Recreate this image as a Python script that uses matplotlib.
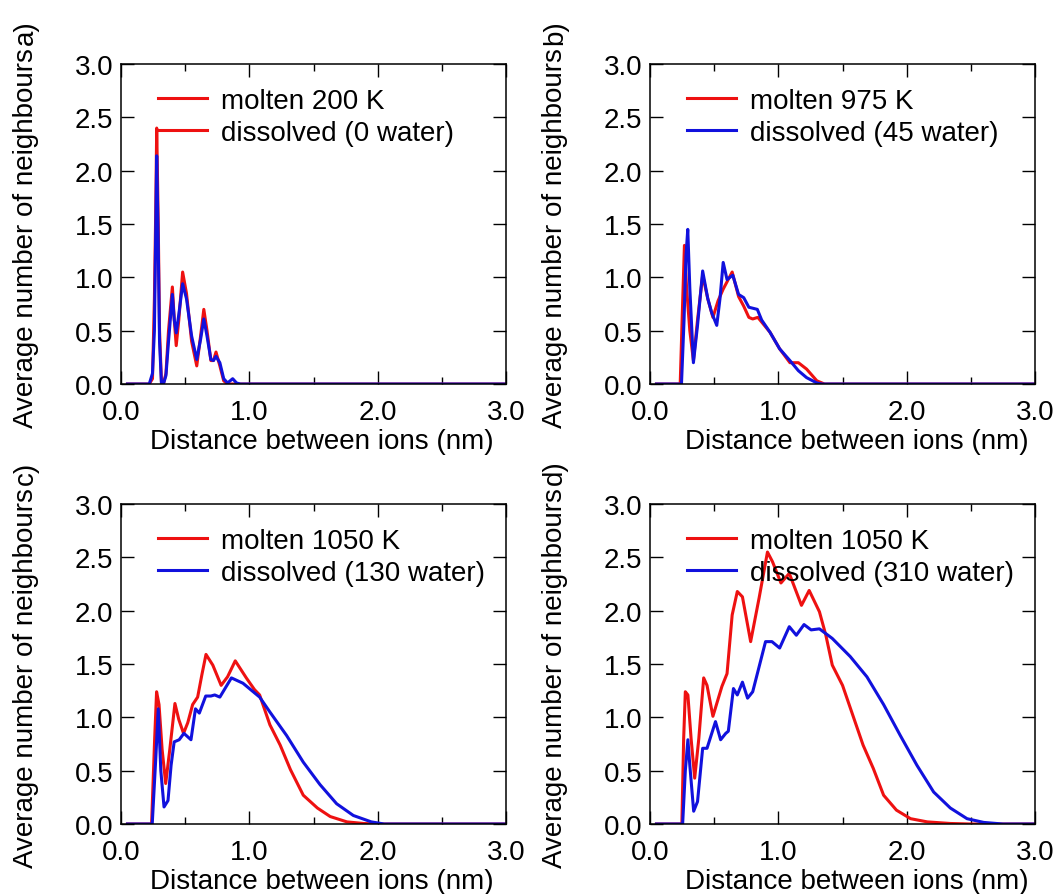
import numpy as np
import matplotlib
matplotlib.use('Agg')
import matplotlib.pyplot as plt
from matplotlib.lines import Line2D

plt.rcParams['font.family'] = ['Liberation Sans', 'DejaVu Sans']
plt.rcParams['font.size'] = 20

# a) molten 200 K vs dissolved (0 water)
xa = [0.05, 0.22, 0.245, 0.26, 0.27, 0.278, 0.29, 0.30, 0.315, 0.33, 0.35, 0.37, 0.40, 0.415, 0.43,
      0.45, 0.48, 0.51, 0.55, 0.59, 0.62, 0.645, 0.67, 0.70, 0.72, 0.74, 0.77, 0.80, 0.83, 0.87,
      0.90, 0.93, 3.0]
molten_a = [0, 0, 0.05, 0.8, 1.6, 2.40, 1.5, 0.5, 0.02, 0, 0.1, 0.5, 0.91, 0.6, 0.36,
            0.6, 1.05, 0.85, 0.4, 0.17, 0.45, 0.70, 0.5, 0.22, 0.22, 0.30, 0.17, 0.03, 0, 0,
            0, 0, 0]
dissolved_a = [0, 0, 0.1, 0.5, 1.4, 2.14, 1.3, 0.4, 0, 0, 0.08, 0.4, 0.84, 0.6, 0.48,
               0.65, 0.94, 0.8, 0.45, 0.23, 0.42, 0.61, 0.45, 0.23, 0.22, 0.26, 0.20, 0.05, 0.01, 0.05,
               0.01, 0, 0]

# b) molten 975 K vs dissolved (45 water)
xb_m = [0.05, 0.235, 0.255, 0.268, 0.285, 0.31, 0.338, 0.37, 0.41, 0.45, 0.49, 0.53, 0.57, 0.64,
        0.69, 0.73, 0.77, 0.80, 0.84, 0.935, 1.01, 1.09, 1.156, 1.22, 1.30, 1.36, 3.0]
molten_b = [0, 0, 0.8, 1.30, 0.9, 0.5, 0.22, 0.6, 1.02, 0.8, 0.625, 0.78, 0.89, 1.05,
            0.82, 0.73, 0.625, 0.61, 0.625, 0.485, 0.33, 0.20, 0.20, 0.14, 0.03, 0, 0]
xb_d = [0.05, 0.245, 0.265, 0.28, 0.294, 0.31, 0.338, 0.37, 0.41, 0.45, 0.48, 0.52, 0.545, 0.57,
        0.60, 0.645, 0.69, 0.73, 0.77, 0.836, 0.87, 0.935, 1.01, 1.09, 1.156, 1.22, 1.30, 1.34, 3.0]
dissolved_b = [0, 0, 0.6, 1.2, 1.45, 0.9, 0.20, 0.55, 1.06, 0.80, 0.67, 0.55, 0.8, 1.14,
               0.98, 1.02, 0.84, 0.81, 0.72, 0.70, 0.6, 0.485, 0.33, 0.22, 0.125, 0.06, 0.01, 0, 0]

# c) molten 1050 K vs dissolved (130 water)
xc_m = [0.05, 0.238, 0.262, 0.277, 0.296, 0.32, 0.348, 0.38, 0.42, 0.45, 0.487, 0.52, 0.558, 0.597,
        0.63, 0.662, 0.715, 0.78, 0.83, 0.89, 0.976, 1.04, 1.08, 1.16, 1.24, 1.32, 1.42, 1.53,
        1.63, 1.76, 1.89, 2.0, 3.0]
molten_c = [0, 0, 0.8, 1.24, 1.12, 0.7, 0.38, 0.7, 1.13, 0.98, 0.85, 0.95, 1.12, 1.19,
            1.40, 1.59, 1.49, 1.30, 1.38, 1.53, 1.37, 1.26, 1.21, 0.93, 0.74, 0.51, 0.27, 0.15,
            0.07, 0.02, 0.005, 0, 0]
xc_d = [0.05, 0.243, 0.27, 0.29, 0.31, 0.335, 0.366, 0.39, 0.414, 0.453, 0.49, 0.545, 0.58, 0.61,
        0.66, 0.70, 0.73, 0.77, 0.86, 0.95, 1.08, 1.16, 1.29, 1.42, 1.55, 1.68, 1.81, 1.95,
        2.05, 3.0]
dissolved_c = [0, 0, 0.6, 1.08, 0.5, 0.16, 0.22, 0.55, 0.77, 0.79, 0.85, 0.79, 1.08, 1.04,
               1.20, 1.20, 1.21, 1.19, 1.37, 1.32, 1.19, 1.05, 0.83, 0.58, 0.37, 0.19, 0.08, 0.02,
               0, 0]

# d) molten 1050 K vs dissolved (310 water)
xd_m = [0.05, 0.248, 0.262, 0.275, 0.295, 0.32, 0.348, 0.38, 0.418, 0.444, 0.49, 0.56, 0.60, 0.64,
        0.68, 0.72, 0.784, 0.85, 0.915, 0.954, 1.02, 1.085, 1.18, 1.24, 1.32, 1.37, 1.42, 1.50,
        1.58, 1.66, 1.74, 1.82, 1.92, 2.03, 2.16, 2.34, 2.5, 3.0]
molten_d = [0, 0, 0.8, 1.24, 1.21, 0.8, 0.43, 0.8, 1.37, 1.30, 1.01, 1.29, 1.41, 1.96,
            2.18, 2.13, 1.71, 2.12, 2.55, 2.46, 2.26, 2.35, 2.05, 2.19, 1.99, 1.77, 1.49, 1.30,
            1.02, 0.74, 0.52, 0.27, 0.13, 0.05, 0.02, 0.005, 0, 0]
xd_d = [0.05, 0.254, 0.275, 0.295, 0.31, 0.34, 0.37, 0.41, 0.444, 0.51, 0.55, 0.59, 0.61, 0.65,
        0.68, 0.72, 0.76, 0.80, 0.90, 0.95, 1.01, 1.085, 1.14, 1.20, 1.255, 1.32, 1.42, 1.56,
        1.69, 1.82, 1.95, 2.08, 2.21, 2.34, 2.47, 2.60, 2.75, 3.0]
dissolved_d = [0, 0, 0.5, 0.79, 0.55, 0.12, 0.21, 0.71, 0.71, 0.96, 0.79, 0.85, 0.87, 1.27,
               1.21, 1.33, 1.18, 1.24, 1.71, 1.71, 1.65, 1.85, 1.77, 1.87, 1.82, 1.83, 1.74, 1.57,
               1.38, 1.12, 0.83, 0.55, 0.30, 0.15, 0.05, 0.015, 0, 0]

panel_letters = ['a)', 'b)', 'c)', 'd)']
molten_labels = ['molten 200 K', 'molten 975 K', 'molten 1050 K', 'molten 1050 K']
dissolved_labels = ['dissolved (0 water)', 'dissolved (45 water)', 'dissolved (130 water)',
                    'dissolved (310 water)']
xtick_vals = [0.0, 1.0, 2.0, 3.0]
ytick_vals = [0.0, 0.5, 1.0, 1.5, 2.0, 2.5, 3.0]

series = [(xa, molten_a, xa, dissolved_a),
          (xb_m, molten_b, xb_d, dissolved_b),
          (xc_m, molten_c, xc_d, dissolved_c),
          (xd_m, molten_d, xd_d, dissolved_d)]

red = '#ee1111'
blue = '#1111dd'

fig = plt.figure(figsize=(10.58, 8.95), dpi=100)
positions = [[0.1144, 0.5698, 0.3639, 0.3575],
             [0.6144, 0.5698, 0.3639, 0.3575],
             [0.1144, 0.0782, 0.3639, 0.3575],
             [0.6144, 0.0782, 0.3639, 0.3575]]
xlab_x = [0.522, 0.538, 0.522, 0.538]

for i in range(4):
    ax = fig.add_axes(positions[i])
    xm, ym, xd, yd = series[i]
    ax.plot(xm, ym, color=red, lw=2.2)
    ax.plot(xd, yd, color=blue, lw=2.2)
    ax.set_xlim(0, 3)
    ax.set_ylim(0, 3)
    ax.set_xticks(xtick_vals)
    ax.set_xticklabels(['%.1f' % v for v in xtick_vals])
    ax.set_xticks([0.5, 1.5, 2.5], minor=True)
    ax.set_yticks(ytick_vals)
    ax.set_yticklabels(['%.1f' % v for v in ytick_vals])
    ax.tick_params(which='both', direction='in', top=True, right=True, width=1.0)
    ax.tick_params(which='major', length=9.5)
    ax.tick_params(which='minor', length=5)
    ax.tick_params(axis='x', pad=11)
    ax.tick_params(axis='y', pad=5.5)
    for s in ax.spines.values():
        s.set_linewidth(1.1)
    ax.set_xlabel('Distance between ions (nm)')
    ax.xaxis.set_label_coords(xlab_x[i], -0.138)
    ax.set_ylabel('Average number of neighbours')
    ax.yaxis.set_label_coords(-0.213, 0.459)
    ax.text(-0.213, 1.062, panel_letters[i], transform=ax.transAxes, rotation=90,
            rotation_mode='anchor', ha='left', va='bottom')
    # panel a shows a red handle for the dissolved entry too
    second = red if i == 0 else blue
    handles = [Line2D([], [], color=red, lw=2.2), Line2D([], [], color=second, lw=2.2)]
    ax.legend(handles, [molten_labels[i], dissolved_labels[i]], loc='upper left',
              bbox_to_anchor=(0.096, 0.925), frameon=False, borderpad=0, borderaxespad=0,
              handlelength=1.76, handletextpad=0.5, labelspacing=0.22)

fig.savefig('out.png', dpi=100)
plt.close(fig)
